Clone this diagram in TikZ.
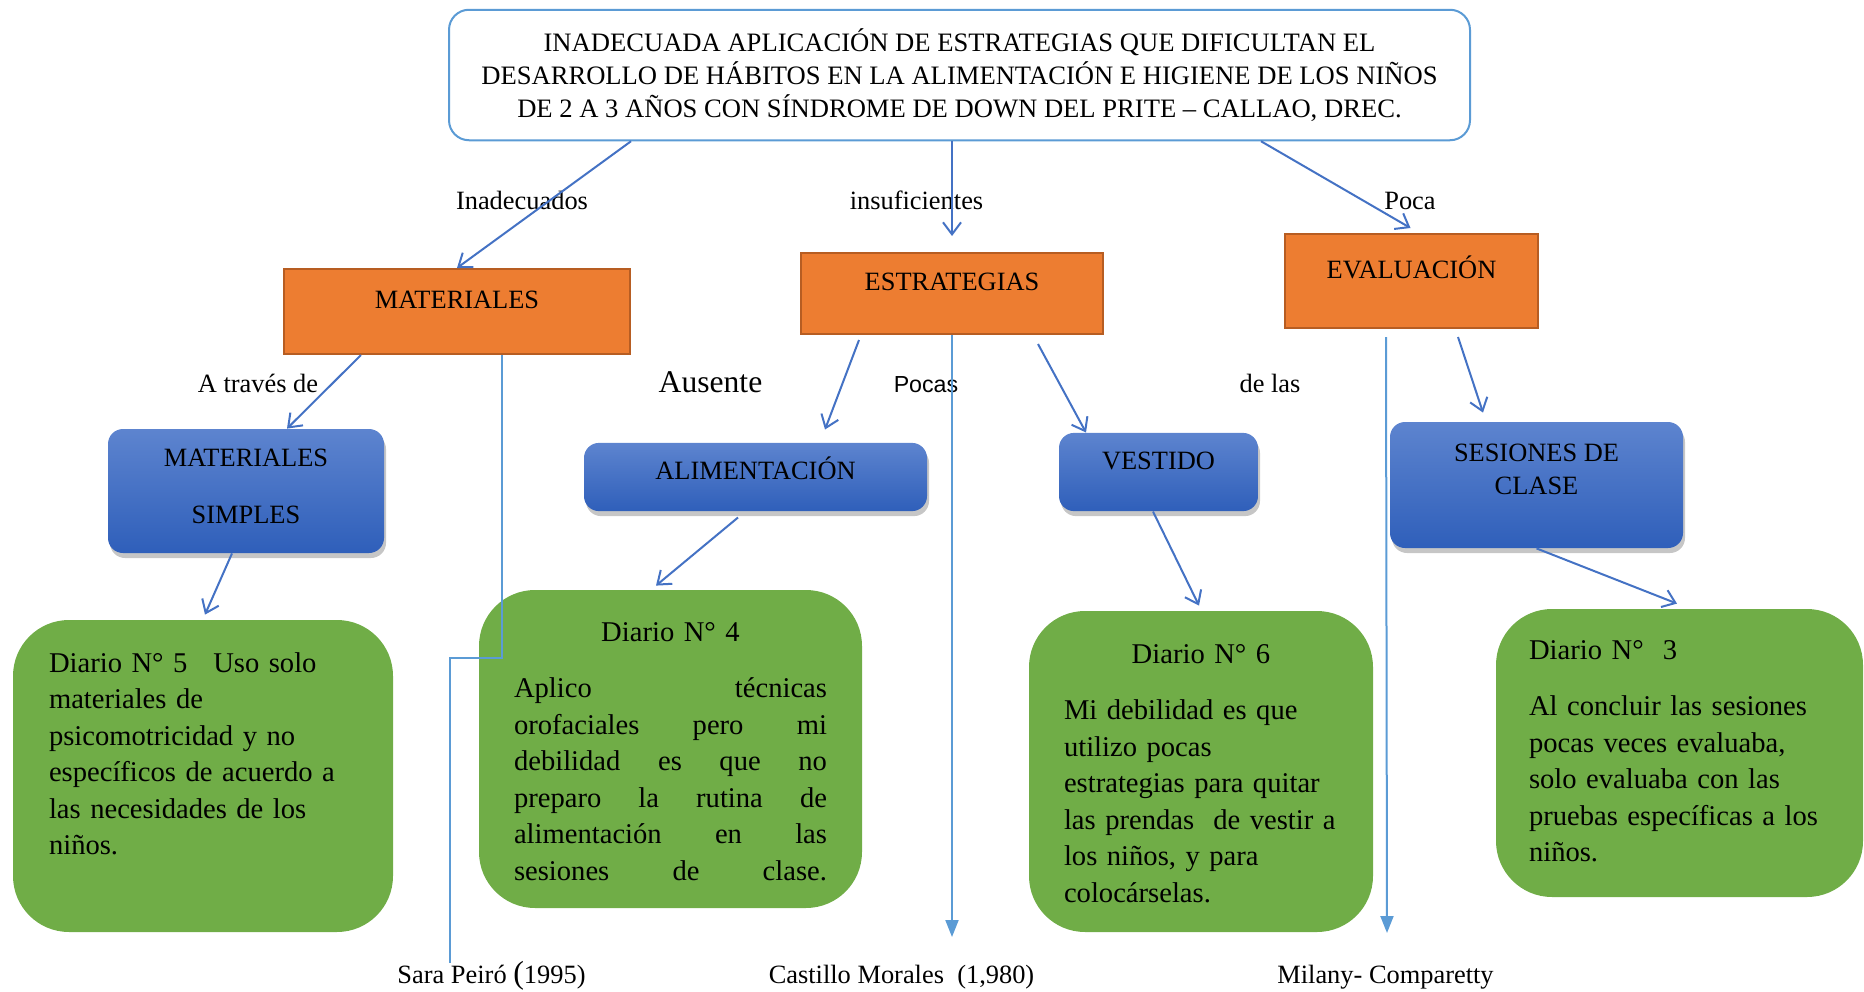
\documentclass[tikz,border=0pt]{standalone}
\usepackage{fontspec}
\setmainfont{Liberation Serif}
\newfontfamily\arialfont{Liberation Sans}
\usetikzlibrary{arrows.meta, calc, shadows}

\definecolor{linea}{RGB}{68,114,196}
\definecolor{lineaclara}{RGB}{91,155,213}
\definecolor{naranja}{RGB}{237,125,49}
\definecolor{naranjaborde}{RGB}{183,93,34}
\definecolor{azularriba}{RGB}{93,132,207}
\definecolor{azulabajo}{RGB}{47,95,186}
\definecolor{verde}{RGB}{112,173,71}

\begin{document}
\begin{tikzpicture}[x=0.5pt, y=-0.5pt,
    titulo/.style={draw=lineaclara, line width=1pt, rounded corners=10pt, fill=white, align=center,
        minimum width=510.5pt, minimum height=65.25pt, font=\fontsize{13.3}{16.6}\selectfont},
    problema/.style={draw=naranjaborde, line width=1pt, fill=naranja, inner ysep=0pt,
        font=\fontsize{13.2}{16.5}\selectfont},
    tema/.style={rounded corners=7.5pt, top color=azularriba, bottom color=azulabajo,
        drop shadow={opacity=0.45, shadow xshift=1pt, shadow yshift=-2.5pt},
        inner ysep=0pt, align=center, font=\fontsize{13.2}{16.5}\selectfont},
    diario/.style={fill=verde, rounded corners=28pt, inner ysep=0pt, align=left,
        font=\fontsize{14.3}{18.25}\selectfont},
    etiqueta/.style={anchor=base, inner sep=0pt, font=\fontsize{13.2}{16.5}\selectfont},
    flecha/.style={draw=linea, line width=1pt, -{Straight Barb[length=6pt,width=9pt]}},
    larga/.style={draw=lineaclara, line width=1pt, -{Triangle[length=8.5pt,width=6.5pt]}},
    delgada/.style={draw=lineaclara, line width=0.6pt}
]
    \useasboundingbox (0,0) rectangle (1864,991);
    % Problema
    \node[titulo] (tit) at (959.5,75) {INADECUADA APLICACIÓN DE ESTRATEGIAS QUE DIFICULTAN EL\\
        DESARROLLO DE HÁBITOS EN LA ALIMENTACIÓN E HIGIENE DE LOS NIÑOS\\
        DE 2 A 3 AÑOS CON SÍNDROME DE DOWN DEL PRITE -- CALLAO, DREC.};
    % Causas
    \node[problema, minimum width=173pt, text height=19.9pt, text depth=22.6pt] (mat) at (457,311.5) {MATERIALES};
    \node[problema, minimum width=151pt, text height=18.9pt, text depth=21.6pt] (est) at (952,293.5) {ESTRATEGIAS};
    \node[problema, minimum width=126.5pt, text height=22.3pt, text depth=24.7pt] (eva) at (1411.5,281) {EVALUACIÓN};
    % Temas
    \node[tema, minimum width=138pt, text height=47.35pt, text depth=14.65pt] (ms) at (246,491) {MATERIALES\\[12pt]SIMPLES};
    \node[tema, minimum width=171.5pt, text height=18.4pt, text depth=15.7pt] (ali) at (755.5,477) {ALIMENTACIÓN};
    \node[tema, minimum width=99.5pt, text height=18.4pt, text depth=20.7pt] (ves) at (1158.5,472) {VESTIDO};
    \node[tema, minimum width=146.5pt, text height=36.35pt, text depth=26.65pt] (ses) at (1536.5,485) {SESIONES DE\\CLASE};
    % Diarios
    \node[diario, text width=154pt, inner xsep=18pt, text height=26pt, text depth=130pt] (d5) at (203,776)
        {Diario N° 5\hspace{0.9em}Uso solo\\ materiales de\\ psicomotricidad y no\\ \mbox{específicos de acuerdo a}\\
         \mbox{las necesidades de los}\\ niños.};
    \node[diario, text width=156.5pt, inner xsep=17.5pt, text height=25.5pt, text depth=133.5pt] (d4) at (670.5,749)
        {\makebox[\linewidth]{Diario N° 4}\\[10pt]
         \makebox[\linewidth]{Aplico\hfill técnicas}\\
         \makebox[\linewidth]{orofaciales\hfill pero\hfill mi}\\
         \makebox[\linewidth]{debilidad\hfill es\hfill que\hfill no}\\
         \makebox[\linewidth]{preparo\hfill la\hfill rutina\hfill de}\\
         \makebox[\linewidth]{alimentación\hfill en\hfill las}\\
         \makebox[\linewidth]{sesiones\hfill de\hfill clase.}};
    \node[diario, text width=137pt, inner xsep=17.5pt, text height=26pt, text depth=134.5pt] (d6) at (1201,771.5)
        {\makebox[\linewidth]{Diario N° 6}\\[10pt]
         Mi debilidad es que\\ utilizo pocas\\ \mbox{estrategias para quitar}\\ \mbox{las prendas\ \ de vestir a}\\
         los niños, y para\\ colocárselas.};
    \node[diario, text width=150.5pt, inner xsep=16.5pt, text height=25pt, text depth=119pt] (d3) at (1679.5,753)
        {Diario N°\ \ 3\\[10pt]
         \mbox{Al concluir las sesiones}\\ pocas veces evaluaba,\\ solo evaluaba con las\\ \mbox{pruebas específicas a los}\\ niños.};
    % Etiquetas
    \node[etiqueta] (inad) at (522,209) {Inadecuados};
    \node[etiqueta] (insu) at (916.5,209) {insuficientes};
    \node[etiqueta] (poca) at (1410,209) {Poca};
    \node[etiqueta] (atra) at (258,392) {A través de};
    \node[etiqueta, font=\fontsize{15.8}{18}\selectfont] (ause) at (710.5,392) {Ausente};
    \node[etiqueta, font=\fontsize{11.6}{14}\arialfont] (pocas) at (926,392) {Pocas};
    \node[etiqueta] (delas) at (1270,392) {de las};
    \node[etiqueta] (sara) at (491.5,983) {Sara Peiró {\fontsize{16}{16}\selectfont(}1995)};
    \node[etiqueta] (cast) at (901.5,983) {Castillo Morales\ \ (1,980)};
    \node[etiqueta] (mil) at (1385.5,983) {Milany- Comparetty};
    % Conectores
    \draw[flecha] (tit.south -| mat.east) -- (mat.north);
    \draw[flecha, shorten >=8pt] (tit.south -| est.north) -- (est.north);
    \draw[flecha] ($(tit.south east)+(-210,0)$) -- ($(eva.north)+(-1,-5)$);
    \draw[flecha] ($(mat.south)+(-96,0)$) -- ($(ms.north)+(41,0)$);
    \draw[flecha] ($(est.south)+(-93,5)$) -- ($(ali.north)+(69.5,-13)$);
    \draw[flecha] ($(est.south)+(86,9)$) -- ($(ves.north)+(-72.5,0)$);
    \draw[flecha] ($(eva.south)+(46.5,8)$) -- ($(ses.north)+(-53.5,-9)$);
    \draw[flecha] ($(ms.south)+(-14,0)$) -- ($(d5.north)+(2,-5)$);
    \draw[flecha] ($(ali.south)+(-17.5,6)$) -- ($(d4.north)+(-14.5,-4)$);
    \draw[flecha] ($(ves.south)+(-5.5,0)$) -- ($(d6.north)+(-2,-5)$);
    \draw[flecha] (ses.south) -- ($(d3.north)+(-2.5,-5)$);
    % Autores
    \coordinate (finEst) at (952,937);
    \coordinate (finEva) at (1387,933);
    \coordinate (finMat) at (450,963);
    \draw[larga] (est.south) -- (finEst);
    \draw[larga] ($(eva.south west)+(102,8)$) -- (finEva);
    \draw[delgada] ($(mat.south)+(45,0)$) -- ++(0,303) -| (finMat);
\end{tikzpicture}
\end{document}
